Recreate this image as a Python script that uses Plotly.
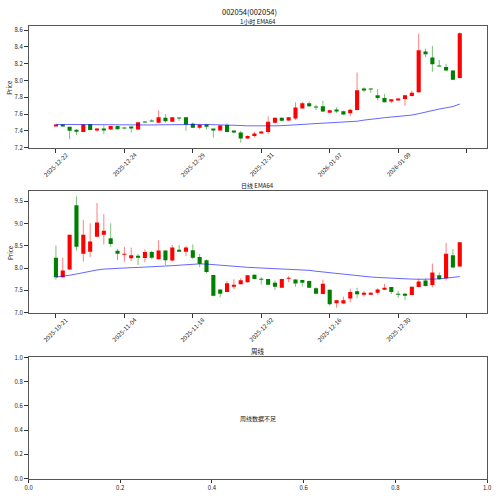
import plotly.graph_objects as go

W, H = 500, 496
FONT = "Noto Sans CJK SC, DejaVu Sans, sans-serif"

# ---------------- data ----------------
main_title = "002054(002054)"
h_title = "1小时 EMA64"
d_title = "日线 EMA64"
w_title = "周线"
w_note = "周线数据不足"

# hourly candles
h_open = [7.461,7.473,7.450,7.414,7.387,7.480,7.407,7.417,7.415,7.457,
          7.436,7.445,7.415,7.510,7.522,7.497,7.555,7.508,7.556,7.563,
          7.485,7.438,7.477,7.418,7.403,7.469,7.392,7.380,7.310,7.340,
          7.372,7.387,7.497,7.555,7.524,7.547,7.668,7.730,7.683,7.695,
          7.617,7.656,7.633,7.610,7.648,7.897,7.900,7.824,7.793,7.754,
          7.770,7.780,7.816,7.859,8.347,8.276,8.178,8.163,8.120,8.030]
h_close = [7.473,7.453,7.400,7.390,7.477,7.410,7.426,7.412,7.457,7.418,
           7.430,7.430,7.504,7.505,7.516,7.563,7.516,7.563,7.548,7.477,
           7.438,7.473,7.450,7.403,7.465,7.387,7.386,7.310,7.340,7.370,
           7.383,7.508,7.555,7.520,7.563,7.680,7.730,7.695,7.678,7.630,
           7.645,7.637,7.594,7.652,7.883,7.891,7.894,7.793,7.742,7.777,
           7.785,7.824,7.855,8.362,8.315,8.195,8.172,8.120,8.011,8.565]
h_high = [7.478,7.478,7.450,7.420,7.480,7.480,7.434,7.465,7.460,7.460,
          7.440,7.450,7.506,7.515,7.540,7.645,7.600,7.565,7.556,7.565,
          7.500,7.476,7.477,7.420,7.470,7.490,7.395,7.400,7.345,7.390,
          7.400,7.574,7.560,7.560,7.565,7.740,7.745,7.750,7.710,7.758,
          7.650,7.680,7.640,7.660,8.093,7.920,7.905,7.900,7.840,7.780,
          7.790,7.830,7.880,8.560,8.380,8.413,8.245,8.200,8.125,8.577]
h_low = [7.458,7.450,7.300,7.350,7.385,7.410,7.390,7.360,7.410,7.415,
         7.425,7.380,7.410,7.500,7.508,7.495,7.497,7.505,7.520,7.400,
         7.435,7.418,7.418,7.320,7.400,7.387,7.370,7.260,7.305,7.320,
         7.370,7.360,7.490,7.518,7.520,7.530,7.665,7.685,7.650,7.625,
         7.615,7.615,7.590,7.575,7.645,7.865,7.855,7.763,7.740,7.730,
         7.765,7.700,7.810,7.855,8.280,8.105,8.170,8.118,8.005,8.025]
h_ema = [7.477,7.476,7.474,7.472,7.472,7.471,7.470,7.469,7.469,7.468,
         7.468,7.467,7.468,7.469,7.470,7.472,7.474,7.476,7.478,7.478,
         7.477,7.477,7.476,7.475,7.474,7.472,7.469,7.464,7.460,7.458,
         7.457,7.458,7.460,7.462,7.465,7.470,7.476,7.482,7.487,7.492,
         7.496,7.500,7.504,7.508,7.515,7.528,7.540,7.549,7.557,7.565,
         7.572,7.580,7.588,7.605,7.625,7.643,7.660,7.675,7.690,7.720]
h_tickpos = [0, 10, 20, 30, 40, 50, 60]
h_ticklabels = ["2025-12-22", "2025-12-24", "2025-12-29", "2025-12-31",
                "2026-01-07", "2026-01-09", ""]
h_yticks = [7.2, 7.4, 7.6, 7.8, 8.0, 8.2, 8.4, 8.6]

# daily candles
d_open = [8.235,7.794,7.970,9.410,8.320,8.368,8.706,8.750,8.669,8.390,
          8.310,8.220,8.280,8.228,8.360,8.200,8.397,8.169,8.395,8.368,
          8.404,8.250,8.176,7.846,7.522,7.463,7.596,7.640,7.684,7.853,
          7.745,7.757,7.669,7.559,7.765,7.743,7.735,7.713,7.550,7.419,
          7.515,7.213,7.206,7.316,7.478,7.412,7.412,7.449,7.515,7.574,
          7.420,7.404,7.397,7.574,7.720,7.618,7.838,7.772,8.287,8.037]
d_close = [7.794,7.949,8.750,8.478,8.750,8.596,9.022,8.838,8.544,8.324,
           8.320,8.287,8.243,8.360,8.235,8.397,8.176,8.463,8.385,8.463,
           8.235,8.096,7.912,7.382,7.426,7.662,7.625,7.728,7.840,7.757,
           7.738,7.625,7.581,7.757,7.775,7.654,7.669,7.559,7.426,7.647,
           7.191,7.279,7.279,7.463,7.412,7.434,7.449,7.522,7.559,7.463,
           7.400,7.390,7.581,7.699,7.596,7.904,7.757,8.324,8.015,8.580]
d_high = [8.507,8.235,8.750,9.610,9.080,9.007,9.463,9.213,9.007,8.430,
          8.480,8.460,8.320,8.420,8.390,8.625,8.400,8.520,8.520,8.500,
          8.530,8.320,8.200,7.850,7.530,7.710,7.750,7.770,7.850,7.860,
          7.800,7.760,7.720,7.760,7.820,7.750,7.740,7.720,7.570,7.740,
          7.520,7.285,7.360,7.540,7.560,7.490,7.460,7.550,7.647,7.580,
          7.490,7.450,7.590,7.760,7.760,8.103,7.904,8.566,8.426,8.580]
d_low = [7.743,7.770,7.960,8.390,8.147,8.243,8.700,8.530,8.478,8.180,
         8.140,8.160,8.070,8.130,8.200,8.190,8.070,8.150,8.370,8.270,
         8.200,8.020,7.880,7.360,7.340,7.460,7.530,7.635,7.676,7.750,
         7.630,7.620,7.510,7.555,7.680,7.580,7.590,7.555,7.420,7.415,
         7.162,7.110,7.200,7.230,7.320,7.360,7.400,7.405,7.510,7.420,
         7.330,7.280,7.390,7.570,7.590,7.570,7.740,7.720,8.000,8.030]
d_ema = [7.800,7.815,7.840,7.868,7.900,7.930,7.958,7.978,7.990,8.000,
         8.005,8.010,8.015,8.020,8.028,8.035,8.045,8.055,8.065,8.075,
         8.088,8.095,8.090,8.075,8.062,8.050,8.040,8.030,8.018,8.012,
         8.005,7.998,7.990,7.983,7.976,7.968,7.960,7.950,7.930,7.913,
         7.895,7.876,7.858,7.840,7.825,7.812,7.800,7.790,7.780,7.770,
         7.763,7.757,7.753,7.750,7.750,7.752,7.756,7.775,7.790,7.810]
d_tickpos = [0, 10, 20, 30, 40, 50, 60]
d_ticklabels = ["2025-10-21", "2025-11-04", "2025-11-18", "2025-12-02",
                "2025-12-16", "2025-12-30", ""]
d_yticks = [7.0, 7.5, 8.0, 8.5, 9.0, 9.5]

w_ticks = [0.0, 0.2, 0.4, 0.6, 0.8, 1.0]

# ---------------- layout helpers ----------------
def px_x(p):
    return p / W

def px_y(p):
    return 1 - p / H

X_DOM = [px_x(25), px_x(492)]
Y1 = [px_y(145.7), px_y(21)]
Y2 = [px_y(314), px_y(189.3)]
Y3 = [px_y(482.3), px_y(359)]

UP = "#ff0000"
DOWN = "#008000"
UP_W = "rgba(255,0,0,0.5)"
DOWN_W = "rgba(0,128,0,0.5)"

fig = go.Figure()


def add_candles(o, h, l, c, ema, xa, ya):
    x = list(range(len(o)))
    up = [ci >= oi for oi, ci in zip(o, c)]
    for flag, col in [(True, UP_W), (False, DOWN_W)]:
        xs, ys = [], []
        for i in x:
            if up[i] == flag:
                xs += [i, i, None]
                ys += [l[i], h[i], None]
        fig.add_trace(go.Scatter(x=xs, y=ys, mode="lines",
                                 line=dict(color=col, width=1),
                                 xaxis=xa, yaxis=ya, hoverinfo="skip",
                                 showlegend=False))
    fig.add_trace(go.Bar(x=x,
                         base=[min(a, b) for a, b in zip(o, c)],
                         y=[abs(b - a) for a, b in zip(o, c)],
                         width=0.6,
                         marker=dict(color=[UP if u else DOWN for u in up],
                                     line=dict(width=0)),
                         xaxis=xa, yaxis=ya, showlegend=False))
    fig.add_trace(go.Scatter(x=x, y=ema, mode="lines",
                             line=dict(color="rgba(0,0,255,0.6)", width=1),
                             xaxis=xa, yaxis=ya, hoverinfo="skip",
                             showlegend=False))


add_candles(h_open, h_high, h_low, h_close, h_ema, "x", "y")
add_candles(d_open, d_high, d_low, d_close, d_ema, "x2", "y2")

LINE = "#555555"
TICKF = dict(family=FONT, size=6, color="#222222")

common_axis = dict(showline=True, linecolor=LINE, linewidth=1, mirror=True,
                   ticks="outside", ticklen=3.5, tickwidth=1, tickcolor="#333333",
                   showgrid=False, zeroline=False, tickfont=TICKF,
                   color="#222222")

fig.update_layout(
    width=W, height=H, autosize=False,
    margin=dict(l=0, r=0, t=0, b=0),
    paper_bgcolor="white", plot_bgcolor="white",
    barmode="overlay", showlegend=False,
    font=dict(family=FONT, size=6, color="#222222"),
    xaxis=dict(domain=X_DOM, anchor="y", range=[-4, 63],
               tickmode="array", tickvals=h_tickpos, showticklabels=False,
               **common_axis),
    yaxis=dict(domain=Y1, anchor="x", range=[7.195, 8.655],
               tickmode="array", tickvals=h_yticks,
               ticktext=[f"{v:.1f}" for v in h_yticks], **common_axis),
    xaxis2=dict(domain=X_DOM, anchor="y2", range=[-4, 63],
                tickmode="array", tickvals=d_tickpos, showticklabels=False,
                **common_axis),
    yaxis2=dict(domain=Y2, anchor="x2", range=[6.985, 9.735],
                tickmode="array", tickvals=d_yticks,
                ticktext=[f"{v:.1f}" for v in d_yticks], **common_axis),
    xaxis3=dict(domain=X_DOM, anchor="y3", range=[0, 1],
                tickmode="array", tickvals=w_ticks,
                ticktext=[f"{v:.1f}" for v in w_ticks], **common_axis),
    yaxis3=dict(domain=Y3, anchor="x3", range=[0, 1],
                tickmode="array", tickvals=w_ticks,
                ticktext=[f"{v:.1f}" for v in w_ticks], **common_axis),
)

# invisible trace so the third axes render
fig.add_trace(go.Scatter(x=[None], y=[None], xaxis="x3", yaxis="y3",
                         mode="markers", marker=dict(color="#222222"),
                         showlegend=False, hoverinfo="skip"))

ann = []
cx = (X_DOM[0] + X_DOM[1]) / 2
ann.append(dict(text=main_title, x=0.5, y=px_y(6.5), xref="paper", yref="paper",
                xanchor="center", yanchor="middle", showarrow=False, borderpad=0,
                font=dict(family=FONT, size=7.5, color="#111111")))
for t, yy, sz in [(h_title, 16.5, 6), (d_title, 184, 6), (w_title, 352.7, 6.5)]:
    ann.append(dict(text=t, x=cx, y=px_y(yy), xref="paper", yref="paper",
                    xanchor="center", yanchor="middle", showarrow=False, borderpad=0,
                    font=dict(family=FONT, size=sz, color="#111111")))
ann.append(dict(text=w_note, x=0.5, y=0.5, xref="x3 domain", yref="y3 domain",
                xanchor="center", yanchor="middle", showarrow=False,
                font=dict(family=FONT, size=6, color="#111111")))
for dom in (Y1, Y2):
    ann.append(dict(text="Price", x=px_x(6), y=(dom[0] + dom[1]) / 2,
                    xref="paper", yref="paper", textangle=-90,
                    xanchor="center", yanchor="middle", showarrow=False,
                    font=dict(family=FONT, size=6, color="#222222")))
for pos, lab in zip(h_tickpos, h_ticklabels):
    if lab:
        ann.append(dict(text=lab, x=pos, xref="x", y=px_y(162.2), yref="paper",
                        textangle=-45, xanchor="center", yanchor="middle",
                        showarrow=False, font=TICKF))
for pos, lab in zip(d_tickpos, d_ticklabels):
    if lab:
        ann.append(dict(text=lab, x=pos, xref="x2", y=px_y(330.8), yref="paper",
                        textangle=-45, xanchor="center", yanchor="middle",
                        showarrow=False, font=TICKF))
fig.update_layout(annotations=ann)

fig.write_html("out.html")
